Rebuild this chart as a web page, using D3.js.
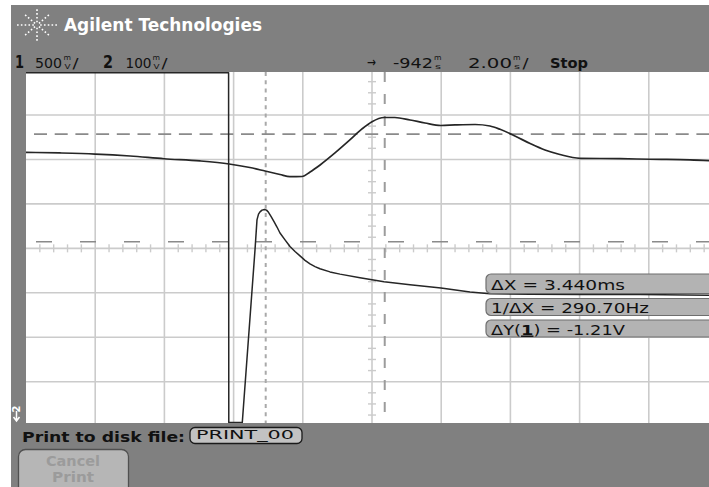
<!DOCTYPE html>
<html><head><meta charset="utf-8">
<script src="https://cdn.jsdelivr.net/npm/d3@7"></script>
<style>html,body{margin:0;padding:0;background:#fff;}svg{display:block;}</style>
</head><body>
<svg id="c" width="709" height="487"></svg>
<script>
// ---- data (time in ms relative to screen centre, volts relative to screen centre) ----
const ch1Time = [-10, -9.02, -8.0, -6.99, -6.01, -4.97, -4.13, -3.53, -3.09, -2.66, -2.37, -2.02, -1.79, -1.50, -1.07, -0.64, -0.29, 0, 0.35, 0.66, 1.10, 1.53, 1.99, 2.40, 2.98, 3.41, 3.70, 4.13, 4.57, 5.0, 5.43, 6.01, 7.17, 8.03, 9.19, 10];
const ch1Volts = [1.080, 1.073, 1.061, 1.039, 1.008, 0.983, 0.949, 0.909, 0.870, 0.831, 0.806, 0.808, 0.859, 0.938, 1.073, 1.219, 1.343, 1.425, 1.472, 1.472, 1.444, 1.410, 1.382, 1.388, 1.393, 1.376, 1.339, 1.264, 1.179, 1.106, 1.056, 1.013, 1.009, 1.002, 0.996, 0.980];
const ch2Time = [-10, -4.145, -4.139, -3.749, -3.382, -3.324, -3.280, -3.237, -3.179, -3.107, -3.049, -2.991, -2.919, -2.832, -2.746, -2.659, -2.514, -2.370, -2.225, -2.081, -1.936, -1.792, -1.647, -1.503, -1.214, -0.925, -0.347, 0.347, 1.098, 1.994, 2.832, 3.410, 4.566, 6.012, 7.746, 10];
const ch2Volts = [0.45, 0.45, -0.45, -0.393, -0.004, 0.064, 0.077, 0.082, 0.086, 0.0875, 0.086, 0.081, 0.072, 0.060, 0.048, 0.0345, 0.019, 0.004, -0.007, -0.017, -0.027, -0.035, -0.041, -0.046, -0.053, -0.058, -0.066, -0.075, -0.082, -0.089, -0.098, -0.102, -0.103, -0.104, -0.104, -0.106];
const xCursors = [-3.072, 0.368];      // ms
const yCursorsCh1 = [1.285, 0.075];    // V
const ch1Scale = 0.5;   // V/div
const ch2Scale = 0.1;   // V/div
const timeScale = 2.0;  // ms/div
const headerLeft = [["1", "500", "m", "V"], ["2", "100", "m", "V"]];
const headerRight = ["-942", "2.00", "Stop"];
const readouts = ["ΔX = 3.440ms", "1/ΔX = 290.70Hz", "ΔY(1) = -1.21V"];

// ---- layout ----
const svg = d3.select("#c");
const F = "'DejaVu Sans', 'Liberation Sans', sans-serif";
const L = 26, R = 718, T = 70.55, B = 426.15;   // full graticule
const visTop = 72, visBot = 423, visRight = 709;

const x = d3.scaleLinear().domain([-5 * timeScale, 5 * timeScale]).range([L, R]);
const yDiv = d3.scaleLinear().domain([-4, 4]).range([B, T]);
const y1 = d3.scaleLinear().domain([-4 * ch1Scale, 4 * ch1Scale]).range([B, T]);
const y2 = d3.scaleLinear().domain([-4 * ch2Scale, 4 * ch2Scale]).range([B, T]);
const clampY = v => Math.max(visTop + 0.8, Math.min(visBot - 0.5, v));

// background
svg.append("rect").attr("x", 11).attr("y", 5).attr("width", 698).attr("height", 482).attr("fill", "#808080");
svg.append("rect").attr("x", L).attr("y", visTop).attr("width", visRight - L).attr("height", visBot - visTop).attr("fill", "#ffffff");

const defs = svg.append("defs");
defs.append("clipPath").attr("id", "plot").append("rect")
  .attr("x", L).attr("y", visTop).attr("width", visRight - L).attr("height", visBot - visTop);
const g = svg.append("g").attr("clip-path", "url(#plot)");

// grid
const gridCol = "#cbcbcb";
g.selectAll(".vg").data(d3.range(-4, 6).map(d => d * timeScale)).join("line")
  .attr("x1", d => x(d)).attr("x2", d => x(d)).attr("y1", T).attr("y2", B)
  .attr("stroke", gridCol).attr("stroke-width", 1.6);
g.selectAll(".hg").data(d3.range(-4, 5)).join("line")
  .attr("x1", L).attr("x2", R).attr("y1", d => yDiv(d)).attr("y2", d => yDiv(d))
  .attr("stroke", gridCol).attr("stroke-width", 1.6);
// minor ticks on centre axes (5 per horizontal division, 4 per vertical division)
g.selectAll(".tx").data(d3.range(-25, 26).filter(d => d % 5 !== 0)).join("line")
  .attr("x1", d => x(d / 5 * timeScale)).attr("x2", d => x(d / 5 * timeScale)).attr("y1", yDiv(0) - 4).attr("y2", yDiv(0) + 4)
  .attr("stroke", gridCol).attr("stroke-width", 1.4);
g.selectAll(".ty").data(d3.range(-16, 17).filter(d => d % 4 !== 0)).join("line")
  .attr("y1", d => yDiv(d / 4)).attr("y2", d => yDiv(d / 4)).attr("x1", x(0) - 4).attr("x2", x(0) + 4)
  .attr("stroke", gridCol).attr("stroke-width", 1.4);

// cursors
g.append("line").attr("x1", x(xCursors[0])).attr("x2", x(xCursors[0])).attr("y1", visTop).attr("y2", visBot)
  .attr("stroke", "#a9a9a9").attr("stroke-width", 2).attr("stroke-dasharray", "4,4.3");
g.append("line").attr("x1", x(xCursors[1])).attr("x2", x(xCursors[1])).attr("y1", visTop).attr("y2", visBot)
  .attr("stroke", "#9c9c9c").attr("stroke-width", 2).attr("stroke-dasharray", "10,12");
g.append("line").attr("x1", L + 8).attr("x2", R).attr("y1", y1(yCursorsCh1[0])).attr("y2", y1(yCursorsCh1[0]))
  .attr("stroke", "#8a8a8a").attr("stroke-width", 1.6).attr("stroke-dasharray", "13,7.7");
g.append("line").attr("x1", L + 10).attr("x2", R).attr("y1", y1(yCursorsCh1[1])).attr("y2", y1(yCursorsCh1[1]))
  .attr("stroke", "#8a8a8a").attr("stroke-width", 1.6).attr("stroke-dasharray", "16,28");

// traces
const line1 = d3.line().x((d, i) => x(ch1Time[i])).y(d => clampY(y1(d))).curve(d3.curveMonotoneX);
const line2 = d3.line().x((d, i) => x(ch2Time[i])).y(d => clampY(y2(d))).curve(d3.curveLinear);
g.append("path").attr("d", line1(ch1Volts)).attr("fill", "none").attr("stroke", "#262626").attr("stroke-width", 1.7);
g.append("path").attr("d", line2(ch2Volts)).attr("fill", "none").attr("stroke", "#262626").attr("stroke-width", 1.5)
  .attr("stroke-linejoin", "round");

// readout boxes
const boxes = [{y: 274, h: 19.5, base: 289.5, w: 134}, {y: 298.5, h: 17, base: 312.5, w: 158}, {y: 320, h: 17, base: 334.5, w: 134}];
boxes.forEach((b, i) => {
  svg.append("rect").attr("x", 486).attr("y", b.y).attr("width", 240).attr("height", b.h).attr("rx", 5)
    .attr("fill", "#b3b3b3").attr("stroke", "#6f6f6f").attr("stroke-width", 1.2);
  const t = svg.append("text").attr("x", 491).attr("y", b.base).attr("font-family", F).attr("font-size", 14.5)
    .attr("fill", "#111").attr("textLength", b.w).attr("lengthAdjust", "spacingAndGlyphs");
  if (i === 2) {
    t.append("tspan").text("ΔY(");
    t.append("tspan").text("1").attr("font-weight", "bold").style("text-decoration", "underline");
    t.append("tspan").text(") = -1.21V");
  } else t.text(readouts[i]);
});

// header: logo
const cx = 37, cy = 25;
[[0, -18], [0, 18], [-21, 0], [21, 0], [-13, -11], [13, -11], [-13, 11], [13, 11]].forEach(([dx, dy]) => {
  svg.append("line").attr("x1", cx + dx * 0.15).attr("y1", cy + dy * 0.15).attr("x2", cx + dx).attr("y2", cy + dy)
    .attr("stroke", "#ffffff").attr("stroke-width", 1.6).attr("stroke-dasharray", "1.6,2.2");
});
svg.append("text").attr("x", 64).attr("y", 31).attr("font-family", F).attr("font-weight", "bold").attr("font-size", 17)
  .attr("fill", "#ffffff").attr("textLength", 198).attr("lengthAdjust", "spacingAndGlyphs").text("Agilent Technologies");

// header second line
function txt(xp, yp, s, size, opts = {}) {
  const t = svg.append("text").attr("x", xp).attr("y", yp).attr("font-family", F).attr("font-size", size)
    .attr("fill", opts.fill || "#111").text(s);
  if (opts.bold) t.attr("font-weight", "bold");
  if (opts.len) t.attr("textLength", opts.len).attr("lengthAdjust", "spacingAndGlyphs");
  if (opts.anchor) t.attr("text-anchor", opts.anchor);
  return t;
}
function unit(xp, top, bottom) {
  txt(xp, 60, top, 7, {len: 7.5});
  txt(xp + 1, 68.5, bottom, 7, {len: 6});
}
const base = 68;
txt(15, base, headerLeft[0][0], 18, {bold: true, len: 9});
txt(35, base, headerLeft[0][1], 14.5, {len: 27});
unit(63.5, headerLeft[0][2], headerLeft[0][3]);
txt(72.5, base, "/", 14, {len: 6});
txt(103, base, headerLeft[1][0], 18, {bold: true, len: 10});
txt(125.5, base, headerLeft[1][1], 14.5, {len: 26});
unit(152.5, headerLeft[1][2], headerLeft[1][3]);
txt(161.5, base, "/", 14, {len: 6});
txt(367, 67, "→", 14, {len: 9});
txt(393, base, headerRight[0], 14.5, {len: 40});
unit(434, "m", "s");
txt(468, base, headerRight[1], 14.5, {len: 44});
unit(513, "m", "s");
txt(522.5, base, "/", 14, {len: 6});
txt(550, base, headerRight[2], 14.5, {bold: true, len: 38});

// ground marker for channel 2
svg.append("text").attr("transform", "translate(20,409) rotate(-90)").attr("font-family", F).attr("font-size", 10)
  .attr("font-weight", "bold").attr("fill", "#ffffff").attr("text-anchor", "middle").text("2");
svg.append("path").attr("d", "M16.5,411 L16.5,420 M13.5,417 L16.5,421 L19.5,417").attr("stroke", "#ffffff")
  .attr("stroke-width", 1.5).attr("fill", "none");

// bottom panel
txt(22, 441.5, "Print to disk file:", 13.5, {bold: true, len: 163});
svg.append("rect").attr("x", 190).attr("y", 427.5).attr("width", 112).attr("height", 16).attr("rx", 5)
  .attr("fill", "#c2c2c2").attr("stroke", "#1a1a1a").attr("stroke-width", 1.3);
txt(196, 439, "PRINT_00", 12.5, {len: 98, fill: "#111"});
svg.append("rect").attr("x", 18.5).attr("y", 449.5).attr("width", 110).attr("height", 45).attr("rx", 7)
  .attr("fill", "#b6b6b6").attr("stroke", "#505050").attr("stroke-width", 1.3);
txt(73, 465.5, "Cancel", 14, {bold: true, fill: "#9b9b9b", anchor: "middle", len: 54});
txt(73, 482, "Print", 14, {bold: true, fill: "#9b9b9b", anchor: "middle", len: 42});
</script>
</body></html>
